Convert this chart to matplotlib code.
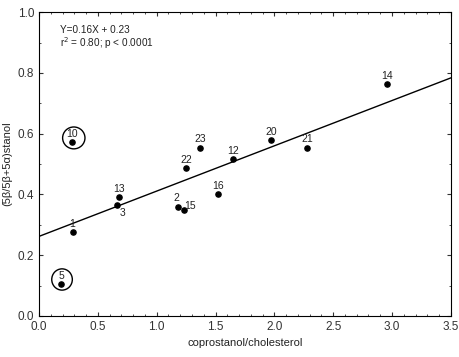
import numpy as np
import matplotlib.pyplot as plt
from matplotlib.patches import Ellipse

plt.rcParams['font.family'] = ['Liberation Sans', 'DejaVu Sans']

# donnees
labels = ['10', '5', '1', '13', '3', '2', '15', '16', '22', '23', '12', '20', '21', '14']
x = [0.28, 0.19, 0.29, 0.68, 0.66, 1.18, 1.23, 1.52, 1.25, 1.37, 1.65, 1.97, 2.28, 2.96]
y = [0.572, 0.105, 0.276, 0.39, 0.365, 0.36, 0.35, 0.40, 0.487, 0.553, 0.516, 0.578, 0.553, 0.763]
circled = {'10': (0.295, 0.586, 0.19, 0.072), '5': (0.195, 0.12, 0.175, 0.07)}
# droite de regression telle que tracee
a, b = 0.149, 0.262

# decalages des etiquettes (points)
offs = {'3': (4, -9.5), '2': (-1, 2.5), '15': (4.5, -1), '1': (-1, 2.5)}

fig = plt.figure(figsize=(4.6, 3.57), dpi=100)
ax = fig.add_axes([0.085, 0.115, 0.895, 0.851])

ax.scatter(x, y, s=14, color='black', zorder=3)
xl = np.array([0, 3.5])
ax.plot(xl, a * xl + b, color='black', lw=1.0)

for lab, xi, yi in zip(labels, x, y):
    dx, dy = offs.get(lab, (0, 2.5))
    ax.annotate(lab, (xi, yi), xytext=(dx, dy), textcoords='offset points',
                ha='center', va='bottom', fontsize=7.5, color='#222222')
    if lab in circled:
        cx, cy, w, h = circled[lab]
        ax.add_patch(Ellipse((cx, cy), w, h, fill=False, lw=1.0, color='black'))

ax.text(0.18, 0.93, 'Y=0.16X + 0.23', fontsize=7.2, color='#222222')
ax.text(0.18, 0.885, 'r$^2$ = 0.80; p < 0.0001', fontsize=7.2, color='#222222')

ax.set_xlim(0, 3.5)
ax.set_ylim(0, 1.0)
ax.set_xticks(np.arange(0, 3.51, 0.5))
ax.set_yticks(np.arange(0, 1.01, 0.2))
ax.set_xticks(np.arange(0, 3.51, 0.1), minor=True)
ax.set_yticks(np.arange(0, 1.01, 0.1), minor=True)
ax.tick_params(which='both', direction='in', top=True, right=True, labelsize=8.5, colors='#333333')
ax.tick_params(which='major', length=3)
ax.tick_params(which='minor', length=1.5)
ax.set_xlabel('coprostanol/cholesterol', fontsize=8, color='#222222')
ax.set_ylabel('(5β/5β+5α)stanol', fontsize=8, color='#222222')

plt.savefig('out.png', dpi=100)
